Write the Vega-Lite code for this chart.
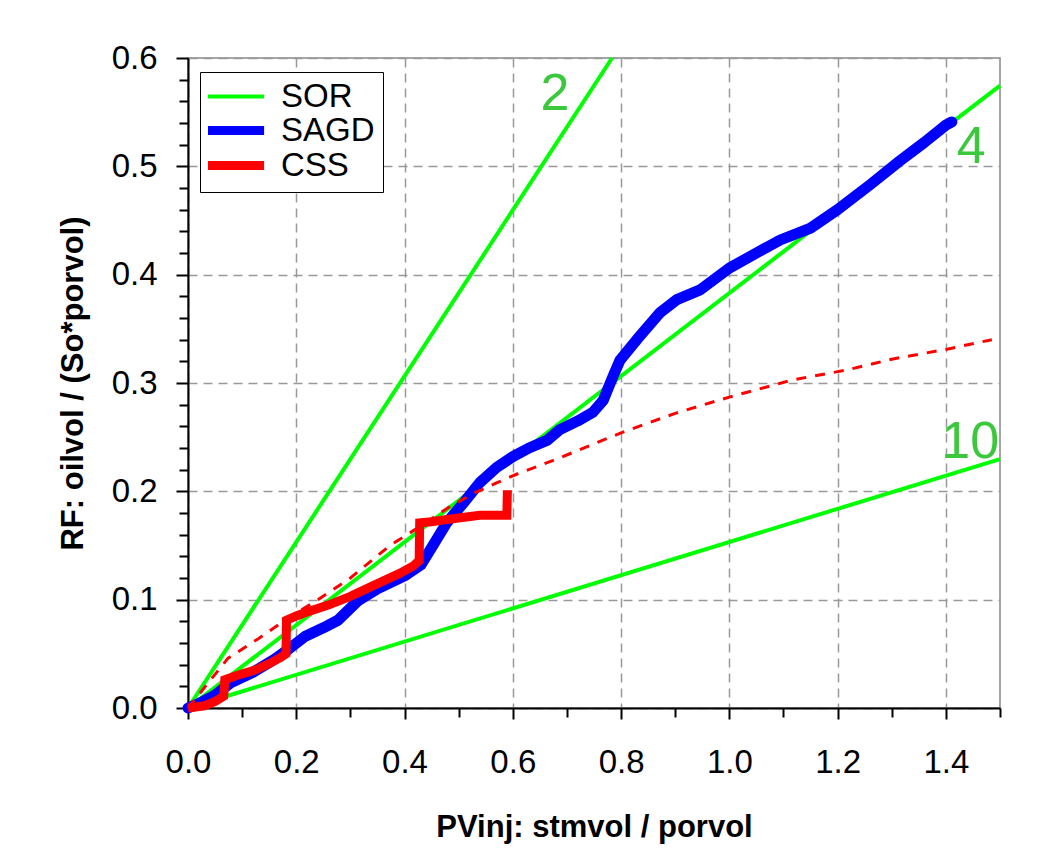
{
  "$schema": "https://vega.github.io/schema/vega-lite/v6.json",
  "width": 812,
  "height": 650,
  "autosize": {"type": "none"},
  "padding": {"left": 188, "top": 58, "right": 41, "bottom": 157},
  "background": "white",
  "config": {
    "font": "Liberation Sans",
    "view": {"stroke": "#888888", "strokeWidth": 1.5}
  },
  "datasets": {
    "sor": [
      {"i": 0, "pv": 0, "rf": 0, "ratio": "2", "series": "SOR"},
      {"i": 1, "pv": 0.7833, "rf": 0.6, "ratio": "2", "series": "SOR"},
      {"i": 0, "pv": 0, "rf": 0, "ratio": "4", "series": "SOR"},
      {"i": 1, "pv": 1.5, "rf": 0.5745, "ratio": "4", "series": "SOR"},
      {"i": 0, "pv": 0, "rf": 0, "ratio": "10", "series": "SOR"},
      {"i": 1, "pv": 1.5, "rf": 0.2298, "ratio": "10", "series": "SOR"}
    ],
    "sagd": [
      {"i": 0, "pv": 0, "rf": 0, "series": "SAGD"},
      {"i": 1, "pv": 0.02, "rf": 0.004, "series": "SAGD"},
      {"i": 2, "pv": 0.05, "rf": 0.012, "series": "SAGD"},
      {"i": 3, "pv": 0.078, "rf": 0.023, "series": "SAGD"},
      {"i": 4, "pv": 0.12, "rf": 0.033, "series": "SAGD"},
      {"i": 5, "pv": 0.16, "rf": 0.045, "series": "SAGD"},
      {"i": 6, "pv": 0.185, "rf": 0.054, "series": "SAGD"},
      {"i": 7, "pv": 0.216, "rf": 0.066, "series": "SAGD"},
      {"i": 8, "pv": 0.25, "rf": 0.074, "series": "SAGD"},
      {"i": 9, "pv": 0.277, "rf": 0.081, "series": "SAGD"},
      {"i": 10, "pv": 0.314, "rf": 0.099, "series": "SAGD"},
      {"i": 11, "pv": 0.35, "rf": 0.11, "series": "SAGD"},
      {"i": 12, "pv": 0.4, "rf": 0.122, "series": "SAGD"},
      {"i": 13, "pv": 0.43, "rf": 0.132, "series": "SAGD"},
      {"i": 14, "pv": 0.45, "rf": 0.148, "series": "SAGD"},
      {"i": 15, "pv": 0.478, "rf": 0.171, "series": "SAGD"},
      {"i": 16, "pv": 0.51, "rf": 0.19, "series": "SAGD"},
      {"i": 17, "pv": 0.539, "rf": 0.208, "series": "SAGD"},
      {"i": 18, "pv": 0.57, "rf": 0.222, "series": "SAGD"},
      {"i": 19, "pv": 0.6, "rf": 0.232, "series": "SAGD"},
      {"i": 20, "pv": 0.63, "rf": 0.24, "series": "SAGD"},
      {"i": 21, "pv": 0.663, "rf": 0.247, "series": "SAGD"},
      {"i": 22, "pv": 0.687, "rf": 0.257, "series": "SAGD"},
      {"i": 23, "pv": 0.72, "rf": 0.265, "series": "SAGD"},
      {"i": 24, "pv": 0.748, "rf": 0.273, "series": "SAGD"},
      {"i": 25, "pv": 0.767, "rf": 0.284, "series": "SAGD"},
      {"i": 26, "pv": 0.785, "rf": 0.306, "series": "SAGD"},
      {"i": 27, "pv": 0.798, "rf": 0.321, "series": "SAGD"},
      {"i": 28, "pv": 0.829, "rf": 0.34, "series": "SAGD"},
      {"i": 29, "pv": 0.872, "rf": 0.365, "series": "SAGD"},
      {"i": 30, "pv": 0.903, "rf": 0.377, "series": "SAGD"},
      {"i": 31, "pv": 0.946, "rf": 0.386, "series": "SAGD"},
      {"i": 32, "pv": 1.0, "rf": 0.406, "series": "SAGD"},
      {"i": 33, "pv": 1.05, "rf": 0.42, "series": "SAGD"},
      {"i": 34, "pv": 1.094, "rf": 0.432, "series": "SAGD"},
      {"i": 35, "pv": 1.15, "rf": 0.443, "series": "SAGD"},
      {"i": 36, "pv": 1.2, "rf": 0.46, "series": "SAGD"},
      {"i": 37, "pv": 1.26, "rf": 0.483, "series": "SAGD"},
      {"i": 38, "pv": 1.315, "rf": 0.505, "series": "SAGD"},
      {"i": 39, "pv": 1.36, "rf": 0.522, "series": "SAGD"},
      {"i": 40, "pv": 1.4, "rf": 0.538, "series": "SAGD"},
      {"i": 41, "pv": 1.411, "rf": 0.541, "series": "SAGD"}
    ],
    "css": [
      {"i": 0, "pv": 0, "rf": 0, "series": "CSS"},
      {"i": 1, "pv": 0.03, "rf": 0.002, "series": "CSS"},
      {"i": 2, "pv": 0.05, "rf": 0.006, "series": "CSS"},
      {"i": 3, "pv": 0.066, "rf": 0.011, "series": "CSS"},
      {"i": 4, "pv": 0.068, "rf": 0.026, "series": "CSS"},
      {"i": 5, "pv": 0.09, "rf": 0.03, "series": "CSS"},
      {"i": 6, "pv": 0.124, "rf": 0.035, "series": "CSS"},
      {"i": 7, "pv": 0.15, "rf": 0.041, "series": "CSS"},
      {"i": 8, "pv": 0.172, "rf": 0.047, "series": "CSS"},
      {"i": 9, "pv": 0.181, "rf": 0.05, "series": "CSS"},
      {"i": 10, "pv": 0.182, "rf": 0.081, "series": "CSS"},
      {"i": 11, "pv": 0.2, "rf": 0.085, "series": "CSS"},
      {"i": 12, "pv": 0.216, "rf": 0.088, "series": "CSS"},
      {"i": 13, "pv": 0.259, "rf": 0.095, "series": "CSS"},
      {"i": 14, "pv": 0.3, "rf": 0.103, "series": "CSS"},
      {"i": 15, "pv": 0.355, "rf": 0.116, "series": "CSS"},
      {"i": 16, "pv": 0.39, "rf": 0.124, "series": "CSS"},
      {"i": 17, "pv": 0.416, "rf": 0.131, "series": "CSS"},
      {"i": 18, "pv": 0.427, "rf": 0.136, "series": "CSS"},
      {"i": 19, "pv": 0.428, "rf": 0.171, "series": "CSS"},
      {"i": 20, "pv": 0.45, "rf": 0.172, "series": "CSS"},
      {"i": 21, "pv": 0.478, "rf": 0.174, "series": "CSS"},
      {"i": 22, "pv": 0.539, "rf": 0.178, "series": "CSS"},
      {"i": 23, "pv": 0.589, "rf": 0.178, "series": "CSS"},
      {"i": 24, "pv": 0.59, "rf": 0.201, "series": "CSS"}
    ],
    "trend": [
      {"i": 0, "pv": 0, "rf": 0},
      {"i": 1, "pv": 0.037, "rf": 0.023},
      {"i": 2, "pv": 0.074, "rf": 0.046},
      {"i": 3, "pv": 0.13, "rf": 0.064},
      {"i": 4, "pv": 0.185, "rf": 0.083},
      {"i": 5, "pv": 0.24, "rf": 0.1},
      {"i": 6, "pv": 0.3, "rf": 0.12},
      {"i": 7, "pv": 0.373, "rf": 0.15},
      {"i": 8, "pv": 0.43, "rf": 0.168},
      {"i": 9, "pv": 0.484, "rf": 0.186},
      {"i": 10, "pv": 0.527, "rf": 0.198},
      {"i": 11, "pv": 0.571, "rf": 0.208},
      {"i": 12, "pv": 0.608, "rf": 0.216},
      {"i": 13, "pv": 0.682, "rf": 0.23},
      {"i": 14, "pv": 0.8, "rf": 0.254},
      {"i": 15, "pv": 0.9, "rf": 0.272},
      {"i": 16, "pv": 1.0, "rf": 0.287},
      {"i": 17, "pv": 1.118, "rf": 0.303},
      {"i": 18, "pv": 1.217, "rf": 0.312},
      {"i": 19, "pv": 1.3, "rf": 0.322},
      {"i": 20, "pv": 1.4, "rf": 0.331},
      {"i": 21, "pv": 1.485, "rf": 0.34}
    ],
    "labels": [
      {"label": "2", "pv": 0.678, "rf": 0.567},
      {"label": "4", "pv": 1.447, "rf": 0.518},
      {"label": "10", "pv": 1.445, "rf": 0.246}
    ]
  },
  "layer": [
    {
      "data": {"name": "sor"},
      "mark": {"type": "line", "strokeCap": "butt", "strokeWidth": 4},
      "encoding": {
        "x": {
          "field": "pv", "type": "quantitative",
          "scale": {"domain": [0, 1.5], "nice": false, "zero": false},
          "axis": {
            "orient": "bottom", "values": [0.1, 0.3, 0.5, 0.7, 0.9, 1.1, 1.3, 1.5],
            "labels": false, "grid": false, "domain": false, "title": null,
            "tickSize": 9, "tickWidth": 2, "tickColor": "black"
          }
        },
        "y": {
          "field": "rf", "type": "quantitative",
          "scale": {"domain": [0, 0.6], "nice": false, "zero": false},
          "axis": {
            "orient": "left",
            "values": [0.02, 0.04, 0.06, 0.08, 0.12, 0.14, 0.16, 0.18, 0.22, 0.24, 0.26, 0.28, 0.32, 0.34, 0.36, 0.38, 0.42, 0.44, 0.46, 0.48, 0.52, 0.54, 0.56, 0.58],
            "labels": false, "grid": false, "domain": false, "title": null,
            "tickSize": 9, "tickWidth": 2, "tickColor": "black"
          }
        },
        "detail": {"field": "ratio"},
        "order": {"field": "i"},
        "color": {
          "field": "series", "type": "nominal",
          "scale": {"domain": ["SOR", "SAGD", "CSS"], "range": ["#00ff00", "#0000ff", "#ff0000"]},
          "legend": {
            "orient": "none", "legendX": 12, "legendY": 14, "title": null,
            "strokeColor": "black", "fillColor": "white", "padding": 8,
            "symbolType": "M-1,0L2.4,0", "symbolSize": 1089,
            "symbolStrokeWidth": {"expr": "datum.value == 'SOR' ? 4 : 9"},
            "labelFont": "Liberation Sans", "labelFontSize": 33, "labelColor": "black",
            "labelOffset": 40, "rowPadding": -3,
            "labelExpr": "datum.label + '\u2003\u2003'"
          }
        }
      }
    },
    {
      "data": {"name": "sagd"},
      "mark": {"type": "line", "strokeCap": "round", "strokeJoin": "round", "strokeWidth": 11},
      "encoding": {
        "x": {
          "field": "pv", "type": "quantitative",
          "axis": {
            "orient": "bottom", "values": [0, 0.2, 0.4, 0.6, 0.8, 1.0, 1.2, 1.4], "format": ".1f",
            "labelFont": "Liberation Sans", "labelFontSize": 33, "labelColor": "black", "labelPadding": 27,
            "labelFlush": false,
            "tickSize": 11, "tickWidth": 2, "tickColor": "black",
            "domainColor": "black", "domainWidth": 2,
            "grid": true, "gridColor": "#999999", "gridDash": [9, 6], "gridWidth": 1.5,
            "title": "PVinj: stmvol / porvol", "titleFont": "Liberation Sans", "titleFontSize": 31,
            "titleFontWeight": "bold", "titleColor": "black", "titlePadding": 33
          }
        },
        "y": {
          "field": "rf", "type": "quantitative",
          "axis": {
            "orient": "left", "values": [0, 0.1, 0.2, 0.3, 0.4, 0.5, 0.6], "format": ".1f",
            "labelFont": "Liberation Sans", "labelFontSize": 33, "labelColor": "black", "labelPadding": 19,
            "labelFlush": false,
            "tickSize": 12, "tickWidth": 2, "tickColor": "black",
            "domainColor": "black", "domainWidth": 2,
            "grid": true, "gridColor": "#999999", "gridDash": [9, 6], "gridWidth": 1.5,
            "title": "RF: oilvol / (So*porvol)", "titleFont": "Liberation Sans", "titleFontSize": 31,
            "titleFontWeight": "bold", "titleColor": "black", "titlePadding": 22
          }
        },
        "order": {"field": "i"},
        "color": {"field": "series", "type": "nominal"}
      }
    },
    {
      "data": {"name": "css"},
      "mark": {"type": "line", "strokeCap": "butt", "strokeJoin": "miter", "strokeWidth": 9},
      "encoding": {
        "x": {"field": "pv", "type": "quantitative", "axis": null},
        "y": {"field": "rf", "type": "quantitative", "axis": null},
        "order": {"field": "i"},
        "color": {"field": "series", "type": "nominal"}
      }
    },
    {
      "data": {"name": "trend"},
      "mark": {"type": "line", "color": "#ff0000", "strokeWidth": 3, "strokeDash": [10, 9]},
      "encoding": {
        "x": {"field": "pv", "type": "quantitative", "axis": null},
        "y": {"field": "rf", "type": "quantitative", "axis": null},
        "order": {"field": "i"}
      }
    },
    {
      "data": {"name": "labels"},
      "mark": {"type": "text", "color": "#3cc83c", "fontSize": 52, "font": "Liberation Sans", "align": "center", "baseline": "middle"},
      "encoding": {
        "x": {"field": "pv", "type": "quantitative", "axis": null},
        "y": {"field": "rf", "type": "quantitative", "axis": null},
        "text": {"field": "label"}
      }
    }
  ],
  "resolve": {"axis": {"x": "independent", "y": "independent"}}
}
